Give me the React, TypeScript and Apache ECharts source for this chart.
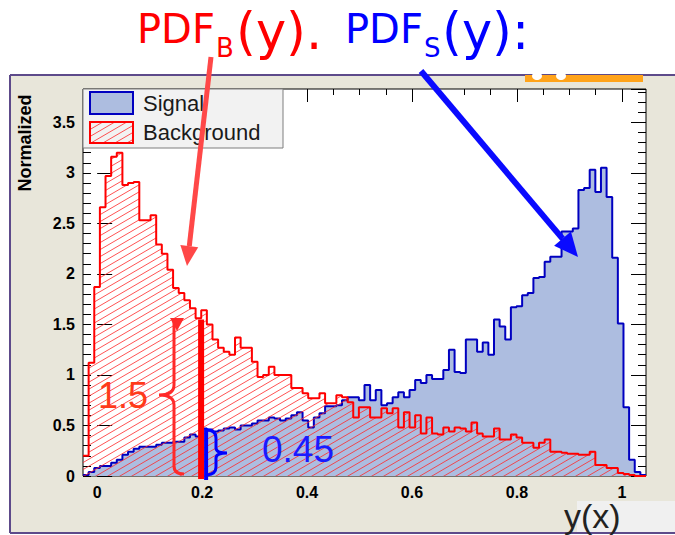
import React, { useEffect, useRef } from "react";
import * as echarts from "echarts";

// ---- data ----
const X_MIN = -0.027;
const X_MAX = 1.046;
const Y_MAX = 3.83;
const X_TICK_LABELS = ["0", "0.2", "0.4", "0.6", "0.8", "1"];
const Y_TICK_LABELS = ["0", "0.5", "1", "1.5", "2", "2.5", "3", "3.5"];

const BACKGROUND = [
  0.2, 1.12, 1.87, 2.66, 2.97, 3.16, 3.2, 2.88, 2.9, 2.91,
  2.53, 2.53, 2.58, 2.29, 2.2, 2.04, 1.86, 1.81, 1.74, 1.66,
  1.56, 1.64, 1.5, 1.35, 1.27, 1.23, 1.2, 1.37, 1.27, 1.27,
  1.13, 0.98, 1.0, 1.08, 1.0, 1.0, 1.0, 0.87, 0.87, 0.82,
  0.77, 0.77, 0.82, 0.72, 0.72, 0.8, 0.78, 0.73, 0.58, 0.68,
  0.68, 0.58, 0.58, 0.67, 0.62, 0.67, 0.48, 0.63, 0.48, 0.6,
  0.42, 0.58, 0.42, 0.41, 0.48, 0.44, 0.48, 0.47, 0.44, 0.53,
  0.42, 0.39, 0.39, 0.47, 0.36, 0.36, 0.41, 0.38, 0.33, 0.33,
  0.28, 0.33, 0.36, 0.24, 0.24, 0.23, 0.22, 0.22, 0.21, 0.21,
  0.24, 0.11, 0.11, 0.08, 0.08, 0.03, 0.02, 0.01, 0, 0,
];

const SIGNAL = [
  0.01, 0.04, 0.08, 0.1, 0.1, 0.13, 0.16, 0.21, 0.24, 0.27,
  0.29, 0.29, 0.29, 0.31, 0.33, 0.33, 0.34, 0.34, 0.38, 0.41,
  0.39, 0.47, 0.46, 0.44, 0.45, 0.47, 0.48, 0.46, 0.5, 0.5,
  0.52, 0.55, 0.55, 0.58, 0.57, 0.55, 0.57, 0.6, 0.63, 0.55,
  0.48, 0.58, 0.62, 0.69, 0.69, 0.7, 0.75, 0.78, 0.78, 0.75,
  0.9, 0.75, 0.85, 0.7, 0.72, 0.78, 0.83, 0.78, 0.85, 0.95,
  0.92, 1.0, 0.96, 0.96, 1.05, 1.25, 1.03, 1.02, 1.35, 1.35,
  1.23, 1.32, 1.2, 1.55, 1.48, 1.35, 1.67, 1.68, 1.79, 1.81,
  1.96, 1.97, 2.12, 2.17, 2.17, 2.42, 2.42, 2.45, 2.83, 2.85,
  3.03, 2.81, 3.05, 2.76, 2.16, 1.51, 0.68, 0.16, 0.04, 0.01,
];

const CUT_X = 0.2;
const CUT_BKG = 1.55;
const CUT_SIG = 0.47;

// ---- layout ----
const W = 675;
const H = 535;
const G_LEFT = 83;
const G_TOP = 89;
const G_RIGHT = 29;
const G_BOTTOM = 59;
const PLOT_W = W - G_LEFT - G_RIGHT;
const PLOT_H = H - G_TOP - G_BOTTOM;
const FONT = '"Liberation Sans", Arial, Helvetica, sans-serif';
const TITLE_FONT = '"DejaVu Sans", "Liberation Sans", Arial, sans-serif';

const px = (x: number) => G_LEFT + ((x - X_MIN) / (X_MAX - X_MIN)) * PLOT_W;
const py = (y: number) => G_TOP + PLOT_H - (y / Y_MAX) * PLOT_H;

echarts.graphic.registerShape(
  "braceRed",
  echarts.graphic.extendPath(
    "M174,322 L174,385 Q174,395 159,395 Q174,395 174,405 L174,466 Q174,474 184,474",
    {}
  )
);
echarts.graphic.registerShape(
  "braceBlue",
  echarts.graphic.extendPath(
    "M207,430 Q216,430 216,438 L216,448 Q216,453 227,453 Q216,453 216,458 L216,467 Q216,474 207,475",
    {}
  )
);

function makeHatch() {
  const w = 12;
  const h = 7;
  const c = document.createElement("canvas");
  c.width = w;
  c.height = h;
  const g = c.getContext("2d")!;
  g.strokeStyle = "rgba(255,40,40,0.8)";
  g.lineWidth = 1;
  for (const n of [-1, 0, 1]) {
    g.beginPath();
    g.moveTo(-w, h * (2 + n));
    g.lineTo(2 * w, h * (n - 1));
    g.stroke();
  }
  return c;
}

function arrow(x1: number, y1: number, x2: number, y2: number, color: string, w: number, hl: number, hw: number) {
  const dx = x2 - x1;
  const dy = y2 - y1;
  const L = Math.hypot(dx, dy);
  const ux = dx / L;
  const uy = dy / L;
  const bx = x2 - ux * hl;
  const by = y2 - uy * hl;
  return [
    { type: "line", z: 100, shape: { x1, y1, x2: bx, y2: by }, style: { stroke: color, lineWidth: w } },
    {
      type: "polygon",
      z: 100,
      shape: { points: [[x2, y2], [bx - uy * hw, by + ux * hw], [bx + uy * hw, by - ux * hw]] },
      style: { fill: color },
    },
  ];
}

function txt(x: number, y: number, text: string, size: number, color: string, family = FONT) {
  return {
    type: "text", z: 100, x, y,
    style: { text, font: `${size}px ${family}`, fill: color, align: "left", verticalAlign: "middle" },
  };
}

export default function App() {
  const ref = useRef<HTMLDivElement>(null);

  useEffect(() => {
    document.body.style.margin = "0";
    if (!ref.current) return;
    const chart = echarts.init(ref.current, null, { renderer: "svg" });
    const hatch = makeHatch();
    const pattern: any = { image: hatch, repeat: "repeat" };

    const N = SIGNAL.length;
    const edges = Array.from({ length: N + 1 }, (_, i) => X_MIN + (i * (X_MAX - X_MIN)) / N);
    const sigData = SIGNAL.map((v, i) => [edges[i], v]).concat([[edges[N], SIGNAL[N - 1]]]);
    const bkgData = BACKGROUND.map((v, i) => [edges[i], v]).concat([[edges[N], BACKGROUND[N - 1]]]);

    const g2Left = px(0);
    const g2Right = W - px(1);

    const tickLabel = {
      fontFamily: FONT,
      fontWeight: "bold" as const,
      fontSize: 16,
      color: "#000",
    };

    const graphic: any[] = [
      // outer panel
      { type: "rect", z: -100, shape: { x: 10, y: 75, width: W - 10, height: 458 }, style: { fill: "#e8e6da" } },
      { type: "line", z: -90, shape: { x1: 10, y1: 75, x2: W, y2: 75 }, style: { stroke: "#5d4a8a", lineWidth: 2 } },
      { type: "line", z: -90, shape: { x1: 10, y1: 75, x2: 10, y2: 533 }, style: { stroke: "#5d4a8a", lineWidth: 2 } },
      { type: "line", z: -90, shape: { x1: 10, y1: 533, x2: W, y2: 533 }, style: { stroke: "#5d4a8a", lineWidth: 2 } },
      { type: "rect", z: 50, shape: { x: 525, y: 75, width: 118, height: 7 }, style: { fill: "#ffa31a" } },
      { type: "ellipse", z: 51, shape: { cx: 537, cy: 76, rx: 5, ry: 4 }, style: { fill: "#fff" } },
      { type: "ellipse", z: 51, shape: { cx: 561, cy: 76, rx: 5, ry: 4 }, style: { fill: "#fff" } },
      // x title box
      { type: "rect", z: -80, shape: { x: 577, y: 501, width: W - 577, height: 31 }, style: { fill: "#f0f0f0" } },
      {
        type: "text", z: 60, x: 564, y: 516,
        style: { text: "y(x)", font: `34px ${FONT}`, fill: "#222", align: "left", verticalAlign: "middle" },
      },
      // y title
      {
        type: "text", z: 60, x: 25, y: 143, rotation: Math.PI / 2,
        style: { text: "Normalized", font: `bold 18px ${FONT}`, fill: "#000", align: "center", verticalAlign: "middle" },
      },
      // legend
      { type: "rect", z: 60, shape: { x: 83, y: 89, width: 200, height: 59 }, style: { fill: "#f2f2f2", stroke: "#7f7f7f", lineWidth: 1 } },
      { type: "rect", z: 61, shape: { x: 90, y: 92, width: 43, height: 22 }, style: { fill: "#adbde0", stroke: "#0000c0", lineWidth: 2 } },
      { type: "rect", z: 61, shape: { x: 90, y: 122, width: 43, height: 21 }, style: { fill: pattern, stroke: "#ff0000", lineWidth: 2 } },
      {
        type: "text", z: 61, x: 143, y: 103,
        style: { text: "Signal", font: `22px ${FONT}`, fill: "#1a1a1a", align: "left", verticalAlign: "middle" },
      },
      {
        type: "text", z: 61, x: 143, y: 132,
        style: { text: "Background", font: `22px ${FONT}`, fill: "#1a1a1a", align: "left", verticalAlign: "middle" },
      },
      // title
      txt(137, 29, "PDF", 40, "#ff0000", TITLE_FONT),
      txt(216, 48, "B", 26, "#ff0000", TITLE_FONT),
      txt(236, 31, "(y).", 51, "#ff0000", TITLE_FONT),
      txt(345, 29, "PDF", 40, "#0000ff", TITLE_FONT),
      txt(424, 48, "S", 26, "#0000ff", TITLE_FONT),
      txt(442, 31, "(y):", 51, "#0000ff", TITLE_FONT),
      // arrows
      ...arrow(211, 57, 187, 266, "#ff4848", 5, 20, 9),
      ...arrow(421, 71, 578, 257, "#0a0aff", 6, 24, 11),
      // cut annotations
      {
        type: "line", z: 100,
        shape: { x1: px(CUT_X) - 1, y1: py(0) + 3, x2: px(CUT_X) - 1, y2: py(CUT_BKG) },
        style: { stroke: "#ff0000", lineWidth: 6 },
      },
      {
        type: "line", z: 101,
        shape: { x1: px(CUT_X) + 4, y1: py(0) + 4, x2: px(CUT_X) + 4, y2: py(CUT_SIG) },
        style: { stroke: "#0000ff", lineWidth: 4 },
      },
      { type: "braceRed", z: 100, x: 0, y: 0, style: { stroke: "#ff2a2a", fill: "none", lineWidth: 3 } },
      { type: "polygon", z: 100, shape: { points: [[170, 318], [184, 318], [177, 331]] }, style: { fill: "#ff2a2a" } },
      { type: "braceBlue", z: 101, x: 0, y: 0, style: { stroke: "#0000ff", fill: "none", lineWidth: 3 } },
      txt(98, 395, "1.5", 36, "#ff3a1a"),
      txt(262, 449, "0.45", 37, "#1a1aff"),
    ];

    const noAxis = { axisLine: { show: false }, axisTick: { show: false }, axisLabel: { show: false }, splitLine: { show: false } };

    chart.setOption({
      animation: false,
      backgroundColor: "transparent",
      grid: [
        {
          left: G_LEFT, top: G_TOP, right: G_RIGHT, bottom: G_BOTTOM,
          show: true, backgroundColor: "#ffffff", borderColor: "#000", borderWidth: 1,
        },
        { left: g2Left, right: g2Right, top: G_TOP, bottom: G_BOTTOM },
      ],
      xAxis: [
        { gridIndex: 0, type: "value", min: X_MIN, max: X_MAX, ...noAxis },
        {
          gridIndex: 1, type: "value", min: 0, max: 1, interval: 0.2, position: "bottom",
          axisLine: { show: false },
          axisTick: { show: true, inside: true, length: 9, lineStyle: { color: "#000" } },
          minorTick: { show: true, splitNumber: 4, length: 5, lineStyle: { color: "#000" } },
          axisLabel: {
            ...tickLabel, margin: 8,
            formatter: (v: number) => X_TICK_LABELS[Math.round(v / 0.2)] ?? "",
          },
          splitLine: { show: false },
        },
        {
          gridIndex: 1, type: "value", min: 0, max: 1, interval: 0.2, position: "top",
          axisLine: { show: false },
          axisTick: { show: true, inside: true, length: 13, lineStyle: { color: "#000" } },
          minorTick: { show: true, splitNumber: 4, length: 6, lineStyle: { color: "#000" } },
          axisLabel: { show: false },
          splitLine: { show: false },
        },
      ],
      yAxis: [
        {
          gridIndex: 0, type: "value", min: 0, max: Y_MAX, interval: 0.5, position: "left",
          axisLine: { show: false },
          axisTick: { show: true, inside: true, length: 15, lineStyle: { color: "#000" } },
          axisLabel: {
            ...tickLabel, margin: 8, showMaxLabel: false,
            formatter: (v: number) => {
              const k = Math.round(v / 0.5);
              return Math.abs(v - k * 0.5) < 1e-6 ? Y_TICK_LABELS[k] ?? "" : "";
            },
          },
          splitLine: { show: false },
        },
        {
          gridIndex: 0, type: "value", min: 0, max: Y_MAX, interval: 0.1, position: "left",
          axisLine: { show: false },
          axisTick: { show: true, inside: true, length: 8, lineStyle: { color: "#000" } },
          axisLabel: { show: false },
          splitLine: { show: false },
        },
        {
          gridIndex: 0, type: "value", min: 0, max: Y_MAX, interval: 0.5, position: "right",
          axisLine: { show: false },
          axisTick: { show: true, inside: true, length: 15, lineStyle: { color: "#000" } },
          axisLabel: { show: false },
          splitLine: { show: false },
        },
        {
          gridIndex: 0, type: "value", min: 0, max: Y_MAX, interval: 0.1, position: "right",
          axisLine: { show: false },
          axisTick: { show: true, inside: true, length: 8, lineStyle: { color: "#000" } },
          axisLabel: { show: false },
          splitLine: { show: false },
        },
        { gridIndex: 1, type: "value", min: 0, max: 1, show: false },
      ],
      series: [
        {
          name: "Signal", type: "line", xAxisIndex: 0, yAxisIndex: 0, step: "end",
          data: sigData, symbol: "none", z: 2,
          lineStyle: { color: "#0000c0", width: 2 },
          areaStyle: { color: "#adbde0", opacity: 1 },
        },
        {
          name: "Background", type: "line", xAxisIndex: 0, yAxisIndex: 0, step: "end",
          data: bkgData, symbol: "none", z: 3,
          lineStyle: { color: "#ff0000", width: 2 },
          areaStyle: { color: pattern, opacity: 1 },
        },
      ],
      graphic: { elements: graphic },
    });

    return () => chart.dispose();
  }, []);

  return <div ref={ref} style={{ width: W, height: H }} />;
}
